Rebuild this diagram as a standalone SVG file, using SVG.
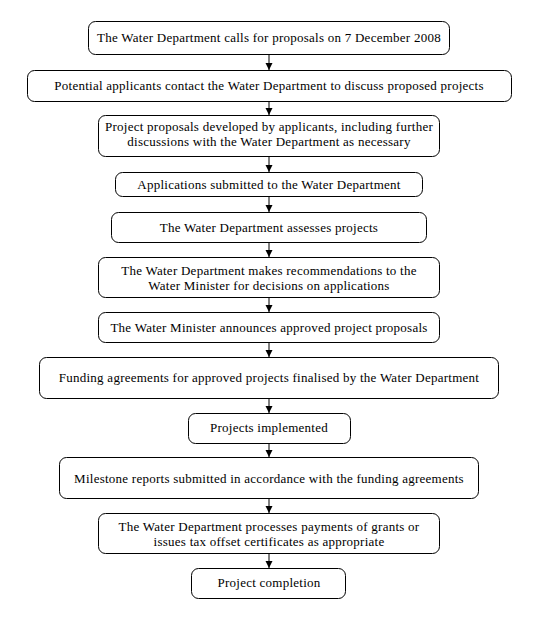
<svg xmlns="http://www.w3.org/2000/svg" width="545" height="622" viewBox="0 0 545 622">
<defs>
<marker id="ah" markerWidth="8" markerHeight="8" refX="7" refY="4" orient="auto" markerUnits="userSpaceOnUse">
<path d="M0,0.5 L7,4 L0,7.5 Z" fill="#000"/>
</marker>
<style>
.box{fill:#fff;stroke:#000;stroke-width:1}
.t{font-family:"Liberation Serif","Times New Roman",serif;font-size:13px;letter-spacing:0.25px;fill:#000;text-anchor:middle}
.c{stroke:#000;stroke-width:1;fill:none;marker-end:url(#ah)}
</style>
</defs>
<rect width="545" height="622" fill="#fff"/>
<g id="connectors">
<line class="c" x1="269" y1="54" x2="269" y2="70"/>
<line class="c" x1="269" y1="101" x2="269" y2="115"/>
<line class="c" x1="269" y1="156" x2="269" y2="172"/>
<line class="c" x1="269" y1="196" x2="269" y2="212"/>
<line class="c" x1="269" y1="242" x2="269" y2="257"/>
<line class="c" x1="269" y1="297" x2="269" y2="312"/>
<line class="c" x1="269" y1="342" x2="269" y2="357"/>
<line class="c" x1="269" y1="398" x2="269" y2="413"/>
<line class="c" x1="269" y1="443" x2="269" y2="457"/>
<line class="c" x1="269" y1="498" x2="269" y2="513"/>
<line class="c" x1="269" y1="553" x2="269" y2="568"/>
</g>
<g id="n1"><rect class="box" x="88.5" y="21.5" width="361" height="33" rx="7"/><text class="t" x="269" y="42">The Water Department calls for proposals on 7 December 2008</text></g>
<g id="n2"><rect class="box" x="27.5" y="70.5" width="484" height="31" rx="7"/><text class="t" x="269" y="90">Potential applicants contact the Water Department to discuss proposed projects</text></g>
<g id="n3"><rect class="box" x="98.5" y="115.5" width="341" height="41" rx="7"/><text class="t" x="269" y="131">Project proposals developed by applicants, including further</text><text class="t" x="269" y="146">discussions with the Water Department as necessary</text></g>
<g id="n4"><rect class="box" x="115.5" y="172.5" width="307" height="24" rx="7"/><text class="t" x="269" y="189">Applications submitted to the Water Department</text></g>
<g id="n5"><rect class="box" x="111.5" y="212.5" width="315" height="30" rx="7"/><text class="t" x="269" y="232">The Water Department assesses projects</text></g>
<g id="n6"><rect class="box" x="98.5" y="257.5" width="341" height="40" rx="7"/><text class="t" x="269" y="275">The Water Department makes recommendations to the</text><text class="t" x="269" y="290">Water Minister for decisions on applications</text></g>
<g id="n7"><rect class="box" x="98.5" y="312.5" width="341" height="30" rx="7"/><text class="t" x="269" y="332">The Water Minister announces approved project proposals</text></g>
<g id="n8"><rect class="box" x="39.5" y="357.5" width="459" height="41" rx="7"/><text class="t" x="269" y="382">Funding agreements for approved projects finalised by the Water Department</text></g>
<g id="n9"><rect class="box" x="188.5" y="413.5" width="162" height="30" rx="7"/><text class="t" x="269" y="432">Projects implemented</text></g>
<g id="n10"><rect class="box" x="59.5" y="457.5" width="419" height="41" rx="7"/><text class="t" x="269" y="483">Milestone reports submitted in accordance with the funding agreements</text></g>
<g id="n11"><rect class="box" x="98.5" y="513.5" width="341" height="40" rx="7"/><text class="t" x="269" y="531">The Water Department processes payments of grants or</text><text class="t" x="269" y="546">issues tax offset certificates as appropriate</text></g>
<g id="n12"><rect class="box" x="191.5" y="568.5" width="154" height="30" rx="7"/><text class="t" x="269" y="587">Project completion</text></g>
</svg>
